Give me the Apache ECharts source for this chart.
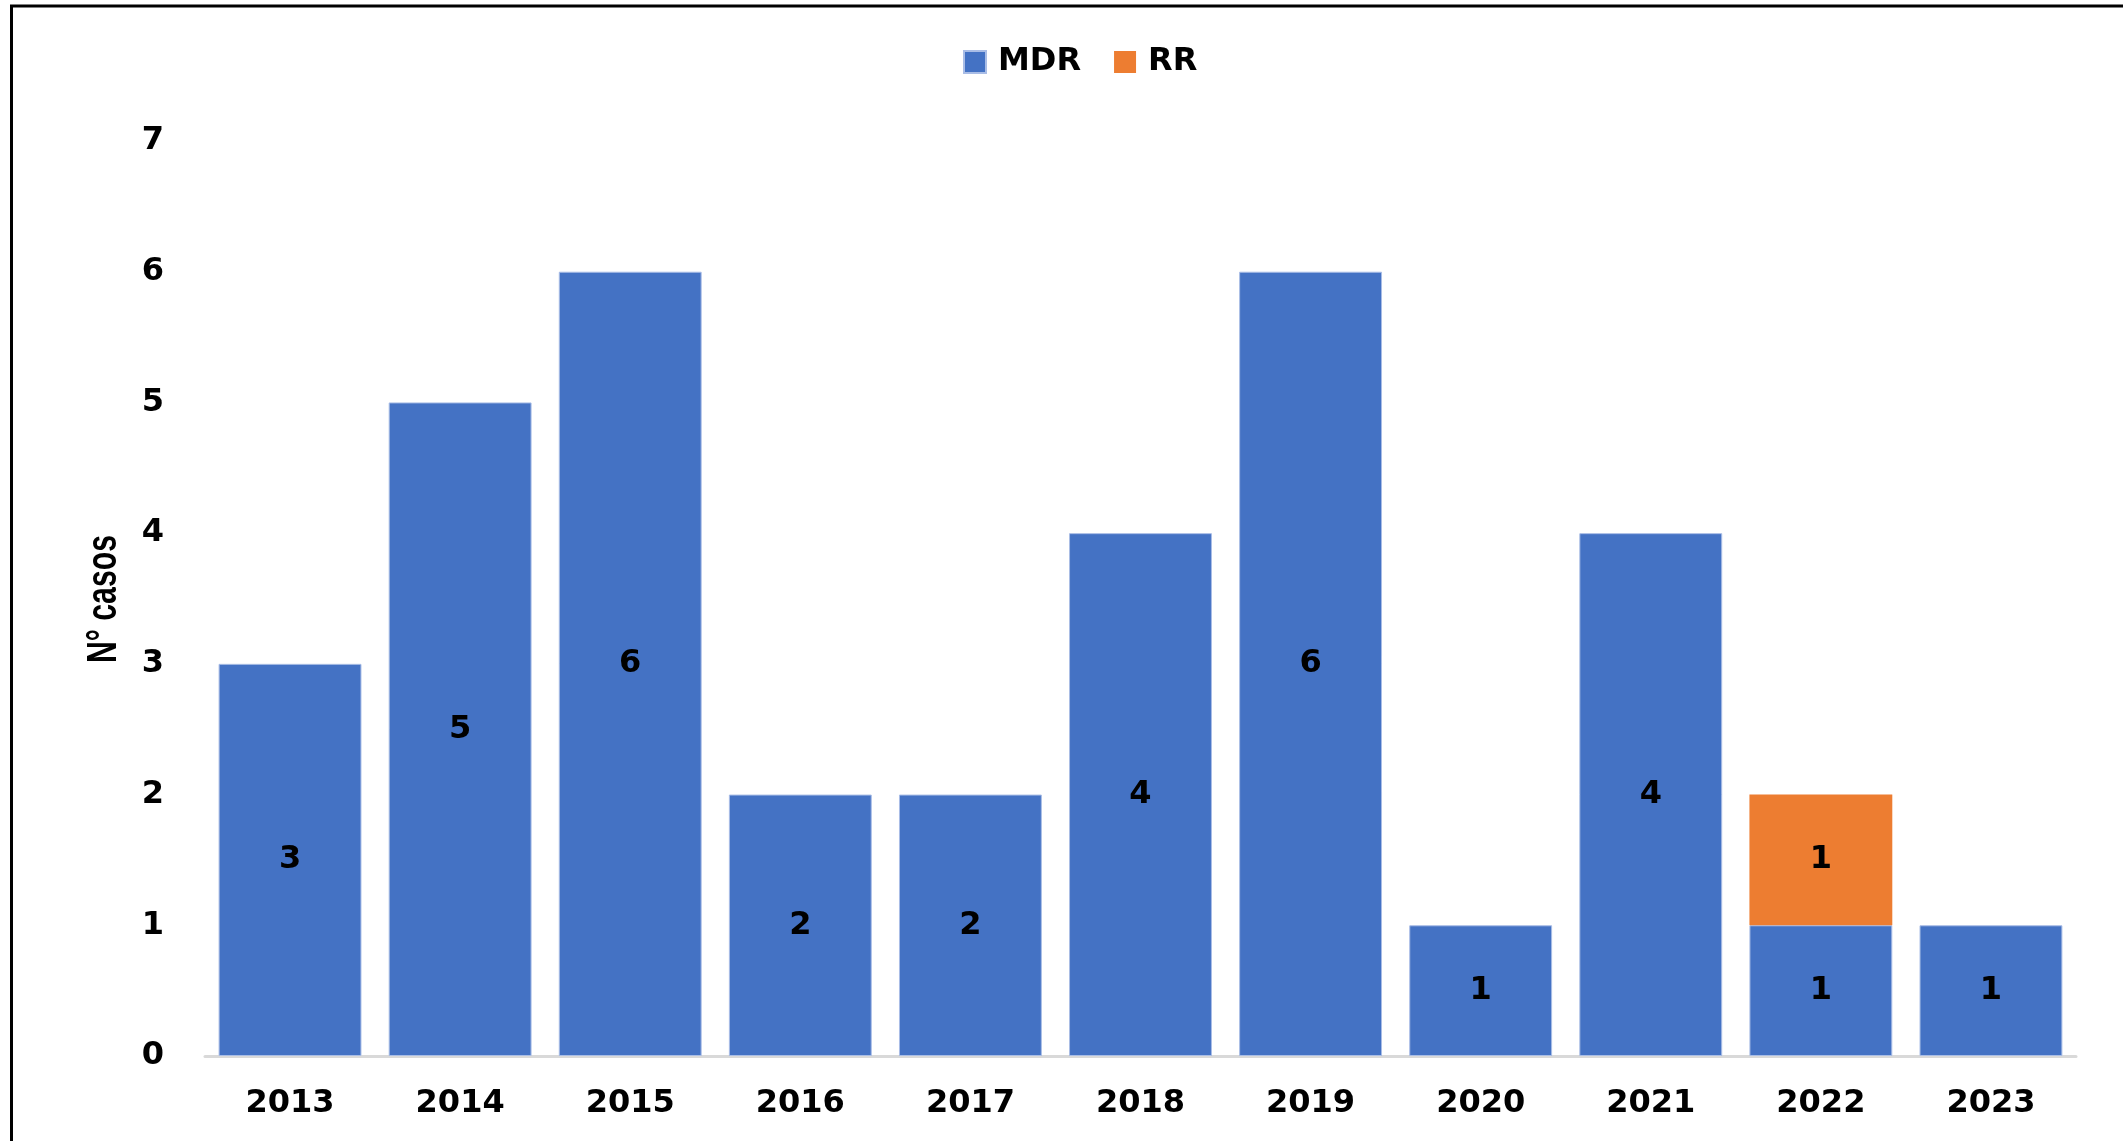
<!DOCTYPE html>
<html>
<head>
<meta charset="utf-8">
<script src="https://cdn.jsdelivr.net/npm/echarts@6/dist/echarts.min.js"></script>
<style>
    html, body { margin: 0; padding: 0; background: #fff; }
    #chart { width: 2123px; height: 1141px; }
</style>
</head>
<body>
<div id="chart"></div>
<script>
    // datos
    var years = ['2013', '2014', '2015', '2016', '2017', '2018', '2019', '2020', '2021', '2022', '2023'];
    var mdr = [3, 5, 6, 2, 2, 4, 6, 1, 4, 1, 1];
    var rr = [0, 0, 0, 0, 0, 0, 0, 0, 0, 1, 0];
    var yTicks = [0, 1, 2, 3, 4, 5, 6, 7];

    var font = 'DejaVu Sans';
    var chart = echarts.init(document.getElementById('chart'));

    var labelCfg = {
        show: true,
        position: 'inside',
        color: '#000',
        fontFamily: font,
        fontWeight: 'bold',
        fontSize: 32,
        formatter: function (p) {
            return p.value ? p.value : '';
        }
    };

    var option = {
        backgroundColor: '#fff',
        animation: false,
        graphic: [
            {
                type: 'rect',
                shape: {x: 11.5, y: 6, width: 2300, height: 1300},
                style: {fill: 'none', stroke: '#000', lineWidth: 3}
            },
            {
                // titulo eje Y (letra estrecha, como en el original)
                type: 'text',
                x: 104,
                y: 599,
                rotation: Math.PI / 2,
                scaleX: 0.72,
                style: {
                    text: 'N° casos',
                    fill: '#000',
                    font: 'bold 42px "Liberation Sans"',
                    align: 'center',
                    verticalAlign: 'middle'
                }
            }
        ],
        legend: {
            left: 958,
            top: 41,
            itemWidth: 22,
            itemHeight: 22,
            itemGap: 33,
            icon: 'rect',
            textStyle: {
                fontFamily: font,
                fontWeight: 'bold',
                fontSize: 32,
                color: '#000',
                padding: [0, 0, 0, 7]
            },
            data: ['MDR', 'RR']
        },
        grid: {
            left: 205,
            right: 47,
            top: 141,
            bottom: 85
        },
        xAxis: {
            type: 'category',
            data: years,
            axisLine: {show: true, lineStyle: {color: '#d9d9d9', width: 3}},
            axisTick: {show: false},
            axisLabel: {
                color: '#000',
                fontFamily: font,
                fontWeight: 'bold',
                fontSize: 32,
                margin: 32
            }
        },
        yAxis: {
            type: 'value',
            min: yTicks[0],
            max: yTicks[yTicks.length - 1],
            interval: 1,
            splitLine: {show: false},
            axisLine: {show: false},
            axisTick: {show: false},
            axisLabel: {
                color: '#000',
                fontFamily: font,
                fontWeight: 'bold',
                fontSize: 32,
                margin: 41
            }
        },
        series: [
            {
                name: 'MDR',
                type: 'bar',
                stack: 'total',
                barCategoryGap: '16%',
                data: mdr,
                itemStyle: {color: '#4472c4', borderColor: '#a9bde6', borderWidth: 1},
                label: labelCfg
            },
            {
                name: 'RR',
                type: 'bar',
                stack: 'total',
                barCategoryGap: '16%',
                data: rr,
                itemStyle: {color: '#ed7d31'},
                label: labelCfg
            }
        ]
    };
    chart.setOption(option);
</script>
</body>
</html>
